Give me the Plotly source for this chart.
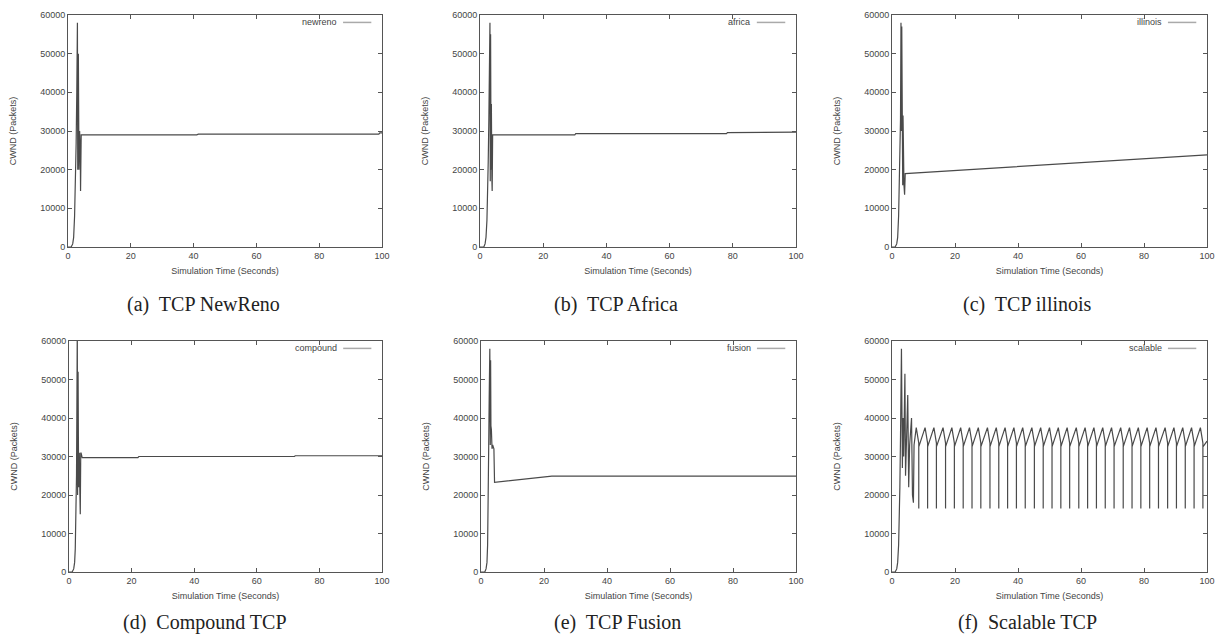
import plotly.graph_objects as go

# ---------------- data ----------------
x_ticks = [0, 20, 40, 60, 80, 100]
y_ticks = [0, 10000, 20000, 30000, 40000, 50000, 60000]
x_title = "Simulation Time (Seconds)"
y_title = "CWND (Packets)"

legend_names = ["newreno", "africa", "illinois", "compound", "fusion", "scalable"]
captions = ["(a)&nbsp; TCP NewReno", "(b)&nbsp; TCP Africa", "(c)&nbsp; TCP illinois",
            "(d)&nbsp; Compound TCP", "(e)&nbsp; TCP Fusion", "(f)&nbsp; Scalable TCP"]

newreno_t = [0, 1.0, 1.5, 1.8, 2.1, 2.4, 2.6, 2.8, 3.0, 3.1, 3.3, 3.5, 3.7, 3.9, 4.0, 4.2,
             41, 41.5, 99, 99.3, 100]
newreno_cwnd = [0, 0, 800, 2500, 8000, 18000, 27000, 40000, 58000, 20000, 50000, 20000, 30000,
                25000, 14500, 29000, 29000, 29200, 29200, 29500, 29500]

africa_t = [0, 1.2, 1.6, 1.9, 2.2, 2.4, 2.6, 2.8, 3.0, 3.15, 3.25, 3.35, 3.5, 3.6, 3.75, 3.85,
            4.0, 30, 30.3, 78, 78.3, 100]
africa_cwnd = [0, 0, 800, 2500, 7000, 12000, 22000, 33000, 45000, 58000, 17000, 55000, 20000,
               37000, 18000, 14500, 29000, 29000, 29300, 29300, 29600, 29700]

illinois_t = [0, 1.0, 1.5, 1.8, 2.1, 2.3, 2.5, 2.7, 2.85, 3.0, 3.1, 3.25, 3.4, 3.5, 3.65, 3.8,
              4.0, 4.2, 100]
illinois_cwnd = [0, 0, 800, 2500, 8000, 14000, 25000, 33000, 58000, 30000, 57000, 34000, 16000,
                 34000, 19000, 16000, 13500, 19000, 23800]

compound_t = [0, 1.0, 1.5, 1.8, 2.0, 2.2, 2.4, 2.5, 2.65, 2.75, 2.9, 3.0, 3.1, 3.3, 3.4, 3.6,
              3.75, 3.9, 4.2, 22, 22.3, 72, 72.3, 100]
compound_cwnd = [0, 0, 800, 2500, 6000, 14000, 25000, 40000, 64000, 20000, 52000, 35000, 22000,
                 31000, 24000, 15000, 31000, 30800, 29700, 29700, 30000, 30000, 30200, 30200]

fusion_t = [0, 1.2, 1.6, 1.9, 2.1, 2.3, 2.45, 2.6, 2.8, 2.95, 3.05, 3.15, 3.3, 3.5, 3.7, 3.9,
            4.1, 4.3, 22.5, 100]
fusion_cwnd = [0, 0, 800, 2500, 7000, 16000, 33000, 45000, 58000, 33000, 55000, 38000, 37000,
               32000, 33000, 32000, 32000, 23300, 24900, 24900]

# scalable: start-up phase, then one row of values per sawtooth cycle
scal_head_t = [0, 1.0, 1.5, 1.8, 2.1, 2.3, 2.5, 2.7, 2.85, 3.0, 3.3, 3.5, 3.7, 4.1, 4.3, 4.6,
               5.0, 5.3, 5.6, 6.2, 6.5, 6.8, 7.0]
scal_head_cwnd = [0, 0, 800, 2500, 7000, 12000, 22000, 35000, 48000, 58000, 27000, 40000, 30000,
                  51500, 25000, 35000, 46000, 22000, 33000, 40000, 20000, 18000, 33000]
scal_peak_t = [7.7, 10.5, 13.3, 16.2, 19.0, 21.8, 24.6, 27.4, 30.3, 33.1, 35.9, 38.7, 41.5,
               44.4, 47.2, 50.0, 52.8, 55.6, 58.5, 61.3, 64.1, 66.9, 69.7, 72.6, 75.4, 78.2,
               81.0, 83.8, 86.7, 89.5, 92.3, 95.1, 97.9]
scal_peak_cwnd = [37500, 37500, 37500, 37500, 37500, 37500, 37500, 37500, 37500, 37500, 37500,
                  37500, 37500, 37500, 37500, 37500, 37500, 37500, 37500, 37500, 37500, 37500,
                  37500, 37500, 37500, 37500, 37500, 37500, 37500, 37500, 37500, 37500, 37500]
scal_drop_t = [8.5, 11.3, 14.1, 17.0, 19.8, 22.6, 25.4, 28.2, 31.1, 33.9, 36.7, 39.5, 42.3,
               45.2, 48.0, 50.8, 53.6, 56.4, 59.3, 62.1, 64.9, 67.7, 70.5, 73.4, 76.2, 79.0,
               81.8, 84.6, 87.5, 90.3, 93.1, 95.9, 98.7]
scal_predrop_cwnd = [33500, 33500, 33500, 33500, 33500, 33500, 33500, 33500, 33500, 33500, 33500,
                     33500, 33500, 33500, 33500, 33500, 33500, 33500, 33500, 33500, 33500, 33500,
                     33500, 33500, 33500, 33500, 33500, 33500, 33500, 33500, 33500, 33500, 33500]
scal_floor_cwnd = [16500, 16500, 16500, 16500, 16500, 16500, 16500, 16500, 16500, 16500, 16500,
                   16500, 16500, 16500, 16500, 16500, 16500, 16500, 16500, 16500, 16500, 16500,
                   16500, 16500, 16500, 16500, 16500, 16500, 16500, 16500, 16500, 16500, 16500]
scal_recover_cwnd = [32500, 32500, 32500, 32500, 32500, 32500, 32500, 32500, 32500, 32500, 32500,
                     32500, 32500, 32500, 32500, 32500, 32500, 32500, 32500, 32500, 32500, 32500,
                     32500, 32500, 32500, 32500, 32500, 32500, 32500, 32500, 32500, 32500, 32500]
scal_tail_t = [100]
scal_tail_cwnd = [34000]

# assemble the scalable series from the read values
scalable_t = list(scal_head_t)
scalable_cwnd = list(scal_head_cwnd)
for k in range(len(scal_peak_t)):
    scalable_t += [scal_peak_t[k], scal_drop_t[k], scal_drop_t[k], scal_drop_t[k]]
    scalable_cwnd += [scal_peak_cwnd[k], scal_predrop_cwnd[k], scal_floor_cwnd[k],
                      scal_recover_cwnd[k]]
scalable_t += scal_tail_t
scalable_cwnd += scal_tail_cwnd

series_t = [newreno_t, africa_t, illinois_t, compound_t, fusion_t, scalable_t]
series_cwnd = [newreno_cwnd, africa_cwnd, illinois_cwnd, compound_cwnd, fusion_cwnd, scalable_cwnd]

# ---------------- layout ----------------
W, H = 1218, 640
# plot-area boxes in pixels (left, right, top, bottom)
boxes = [(68, 382, 15, 247), (480, 796, 15, 247), (892, 1207, 15, 247),
         (69, 382, 341, 572), (481, 796, 341, 572), (892, 1207, 341, 572)]
caption_pos = [(203, 304), (616, 304), (1027, 304), (205, 622), (617, 622), (1027, 622)]

LINE = "#4a4a4a"
AX = "#555555"
TXT = "#444444"
SANS = "Liberation Sans, Arial, sans-serif"
SERIF = "Liberation Serif, Times New Roman, serif"

fig = go.Figure()
annotations = []
shapes = []
layout = dict(template="none", width=W, height=H, margin=dict(l=0, r=0, t=0, b=0, pad=0),
              paper_bgcolor="white", plot_bgcolor="white", showlegend=False,
              hovermode=False)

for i in range(6):
    n = "" if i == 0 else str(i + 1)
    xa, ya = "x" + n, "y" + n
    l, r, t, b = boxes[i]
    fig.add_trace(go.Scatter(x=series_t[i], y=series_cwnd[i], mode="lines",
                             line=dict(color=LINE, width=1.2), name=legend_names[i],
                             xaxis=xa, yaxis=ya, hoverinfo="skip"))
    common = dict(showline=True, linecolor=AX, linewidth=1, mirror="allticks",
                  ticks="inside", ticklen=4, tickcolor=AX, showgrid=False, zeroline=False,
                  automargin=False, tickfont=dict(family=SANS, size=9, color=TXT),
                  fixedrange=True)
    layout["xaxis" + n] = dict(domain=[l / W, r / W], anchor=ya, range=[0, 100],
                               tickvals=x_ticks, ticktext=[str(v) for v in x_ticks],
                               title=dict(text=x_title, font=dict(family=SANS, size=9, color=TXT),
                                          standoff=7),
                               **common)
    layout["yaxis" + n] = dict(domain=[1 - b / H, 1 - t / H], anchor=xa, range=[0, 60000],
                               tickvals=y_ticks, ticktext=[str(v) for v in y_ticks],
                               title=dict(text=y_title, font=dict(family=SANS, size=9, color=TXT),
                                          standoff=22),
                               **common)
    # gnuplot-style key: label then sample line, top-right inside the frame
    annotations.append(dict(xref=xa + " domain", yref=ya + " domain", x=0.862, y=0.968,
                            xanchor="right", yanchor="middle", showarrow=False,
                            text=legend_names[i], font=dict(family=SANS, size=9, color=TXT)))
    shapes.append(dict(type="line", xref=xa + " domain", yref=ya + " domain",
                       x0=0.876, x1=0.966, y0=0.968, y1=0.968,
                       line=dict(color="#aaaaaa", width=1.5)))
    cx, cy = caption_pos[i]
    annotations.append(dict(xref="paper", yref="paper", x=cx / W, y=1 - cy / H,
                            xanchor="center", yanchor="middle", showarrow=False,
                            text=captions[i], font=dict(family=SERIF, size=20, color="#222222")))

layout["annotations"] = annotations
layout["shapes"] = shapes
fig.update_layout(**layout)
# remove the page's default body margin so the 1218x640 figure fills the window exactly
fig.write_html("out.html",
               config={"displayModeBar": False, "staticPlot": True},
               post_script="document.body.style.margin='0px';"
                           "document.body.style.overflow='hidden';")
